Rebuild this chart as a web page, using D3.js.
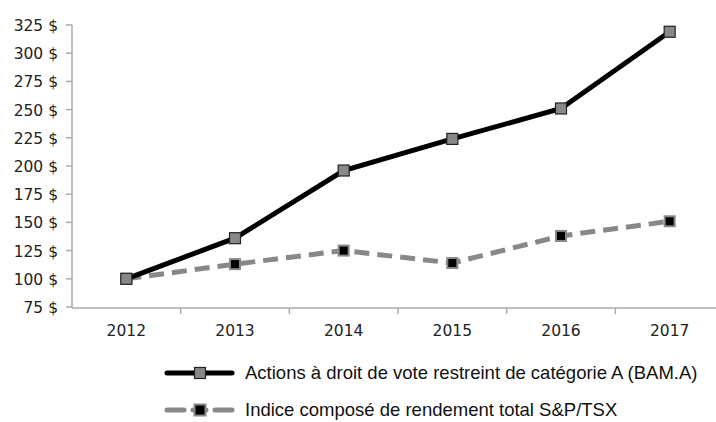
<!DOCTYPE html>
<html lang="fr">
  <head>
    <meta charset="UTF-8" />
    <title>Rendement total</title>
    <script src="https://d3js.org/d3.v7.min.js"></script>
    <style>
      body {
        margin: 0;
        background: #fff;
      }
      .tick-label {
        font-family: "DejaVu Sans", sans-serif;
        font-size: 15.5px;
        fill: #222;
      }
      .legend-text {
        font-family: "Liberation Sans", Arial, sans-serif;
        font-size: 18.5px;
        fill: #111;
      }
    </style>
  </head>
  <body>
    <svg id="chart" width="716" height="422"></svg>
    <script>
      const years = ["2012", "2013", "2014", "2015", "2016", "2017"];
      const bamValues = [100, 136, 196, 224, 251, 319];
      const tsxValues = [100, 113, 125, 114, 138, 151];
      const yTicks = [75, 100, 125, 150, 175, 200, 225, 250, 275, 300, 325];
      const seriesNames = [
        "Actions à droit de vote restreint de catégorie A (BAM.A)",
        "Indice composé de rendement total S&P/TSX",
      ];

      const svg = d3.select("#chart");
      const x = d3.scaleBand().domain(years).range([72, 724]);
      const y = d3.scaleLinear().domain([75, 325]).range([307, 25]);

      // y axis
      svg.append("line")
        .attr("x1", 72).attr("x2", 72)
        .attr("y1", y(325)).attr("y2", 308)
        .attr("stroke", "#aaa").attr("stroke-width", 1.5);
      yTicks.forEach((t) => {
        svg.append("line")
          .attr("x1", 66).attr("x2", 72)
          .attr("y1", y(t)).attr("y2", y(t))
          .attr("stroke", "#aaa").attr("stroke-width", 1.5);
        svg.append("text")
          .attr("class", "tick-label")
          .attr("x", 58).attr("y", y(t) + 6)
          .attr("text-anchor", "end")
          .text(t + " $");
      });

      // x axis
      svg.append("line")
        .attr("x1", 72).attr("x2", 716)
        .attr("y1", 308).attr("y2", 308)
        .attr("stroke", "#aaa").attr("stroke-width", 1.5);
      years.forEach((yr, i) => {
        if (i > 0) {
          svg.append("line")
            .attr("x1", x(yr)).attr("x2", x(yr))
            .attr("y1", 308).attr("y2", 314)
            .attr("stroke", "#aaa").attr("stroke-width", 1.5);
        }
        svg.append("text")
          .attr("class", "tick-label")
          .attr("x", x(yr) + x.bandwidth() / 2).attr("y", 336)
          .attr("text-anchor", "middle")
          .text(yr);
      });

      const cx = (d, i) => x(years[i]) + x.bandwidth() / 2;
      const line = d3.line().x(cx).y((d) => y(d));

      // TSX dashed
      svg.append("path")
        .datum(tsxValues)
        .attr("d", line)
        .attr("fill", "none")
        .attr("stroke", "#888")
        .attr("stroke-width", 5)
        .attr("stroke-dasharray", "15,8");
      svg.selectAll(".tsx-pt")
        .data(tsxValues)
        .join("rect")
        .attr("x", (d, i) => cx(d, i) - 5)
        .attr("y", (d) => y(d) - 5)
        .attr("width", 10).attr("height", 10)
        .attr("fill", "#000").attr("stroke", "#888").attr("stroke-width", 2);

      // BAM solid
      svg.append("path")
        .datum(bamValues)
        .attr("d", line)
        .attr("fill", "none")
        .attr("stroke", "#000")
        .attr("stroke-width", 5);
      svg.selectAll(".bam-pt")
        .data(bamValues)
        .join("rect")
        .attr("x", (d, i) => cx(d, i) - 5.5)
        .attr("y", (d) => y(d) - 5.5)
        .attr("width", 11).attr("height", 11)
        .attr("fill", "#888").attr("stroke", "#222").attr("stroke-width", 1.2);

      // Legend
      const lg = [
        { y: 373, color: "#000", dash: null, fill: "#888", stroke: "#222" },
        { y: 410, color: "#888", dash: "17,9,13,9,17", fill: "#000", stroke: "#888" },
      ];
      lg.forEach((l, i) => {
        svg.append("line")
          .attr("x1", 167).attr("x2", 232)
          .attr("y1", l.y).attr("y2", l.y)
          .attr("stroke", l.color).attr("stroke-width", 5)
          .attr("stroke-linecap", "round")
          .attr("stroke-dasharray", l.dash);
        svg.append("rect")
          .attr("x", 194.5).attr("y", l.y - 5.5)
          .attr("width", 11).attr("height", 11)
          .attr("fill", l.fill).attr("stroke", l.stroke)
          .attr("stroke-width", i === 0 ? 1.2 : 2);
        svg.append("text")
          .attr("class", "legend-text")
          .attr("x", 245).attr("y", l.y + 6)
          .text(seriesNames[i]);
      });
    </script>
  </body>
</html>
